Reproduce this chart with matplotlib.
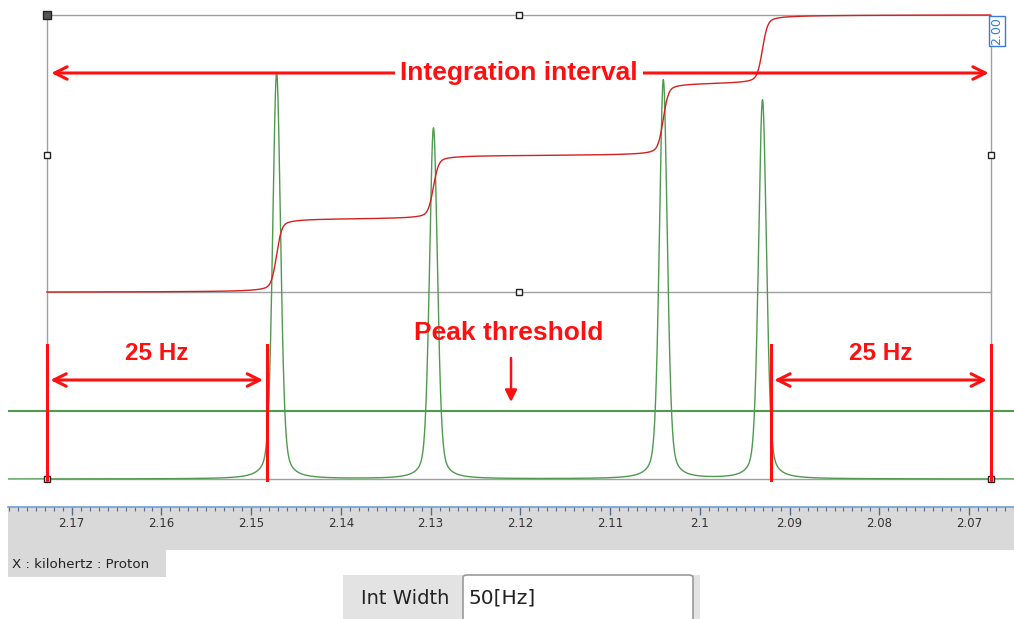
import numpy as np
import matplotlib
matplotlib.use("Agg")
import matplotlib.pyplot as plt
from matplotlib.patches import Rectangle, FancyBboxPatch

# ---------------- data ----------------
peak_pos = [2.1473, 2.1299, 2.1044, 2.0934]      # kHz
peak_height = [406, 351, 399, 379]               # intensity (a.u.)
peak_fwhm = 0.00105                              # kHz
lorentz_fraction = 0.35
x_range = (2.1771, 2.0655)                       # kHz, displayed
interval = (2.1728, 2.0681)                      # integration interval (kHz)
margin_lines = [2.1728, 2.1484, 2.0925, 2.0681]  # red marker lines
threshold = 68
integral_low, integral_high = 187, 464
integral_label = "2.00"
tick_values = [2.17, 2.16, 2.15, 2.14, 2.13, 2.12, 2.11, 2.10, 2.09, 2.08, 2.07]
tick_labels = ["2.17", "2.16", "2.15", "2.14", "2.13", "2.12", "2.11", "2.1", "2.09", "2.08", "2.07"]
peak_label_x = 2.1216
peak_arrow_x = 2.1213

W, H = 1014, 619
fig = plt.figure(figsize=(W / 100, H / 100), dpi=100)
fig.patch.set_facecolor("white")


def rect(x0, y0, x1, y1):
    return [x0 / W, 1 - y1 / H, (x1 - x0) / W, (y1 - y0) / H]


GREEN = "#4e9a4e"
RED = "#ff1010"
IRED = "#d42020"
GRAY = "#a0a0a0"
FONT = ["Liberation Sans", "DejaVu Sans"]

# ---------------- main spectrum ----------------
ax = fig.add_axes(rect(8, 0, 1014, 500))
ax.set_xlim(*x_range)
ax.set_ylim(-21, 479)
ax.axis("off")

x = np.linspace(x_range[0], x_range[1], 6000)
spec = np.zeros_like(x)
g = peak_fwhm / 2
sig = peak_fwhm / (2 * np.sqrt(2 * np.log(2)))
for p, h in zip(peak_pos, peak_height):
    lor = g ** 2 / ((x - p) ** 2 + g ** 2)
    gau = np.exp(-0.5 * ((x - p) / sig) ** 2)
    spec += h * (lorentz_fraction * lor + (1 - lorentz_fraction) * gau)
ax.plot(x, spec, color=GREEN, lw=1.0, zorder=3)

# threshold
ax.axhline(threshold, color=GREEN, lw=1.5, zorder=3)

# integral
mask = (x <= interval[0]) & (x >= interval[1])
xi = x[mask]
cum = np.cumsum(spec[mask])
cum = integral_low + (cum - cum[0]) / (cum[-1] - cum[0]) * (integral_high - integral_low)
ax.plot(xi, cum, color=IRED, lw=1.0, zorder=4)

# selection box
xm = (interval[0] + interval[1]) / 2
ax.plot([interval[0], interval[1], interval[1], interval[0], interval[0]],
        [0, 0, integral_high, integral_high, 0], color=GRAY, lw=1.0, zorder=2)
ax.plot([interval[0], interval[1]], [integral_low, integral_low], color=GRAY, lw=1.0, zorder=2)
hx = [xm, interval[0], interval[1], xm, interval[0], interval[1]]
hy = [integral_high, 324, 324, integral_low, 0, 0]
ax.plot(hx, hy, ls="none", marker="s", ms=5, mfc="white", mec="#222222", mew=1, zorder=6)
ax.plot([interval[0]], [integral_high], ls="none", marker="s", ms=6, mfc="#555555",
        mec="#222222", mew=1, zorder=6)
ax.text(interval[1] + 0.00005, integral_high - 2, integral_label, rotation=90, color="#3a7bd5",
        fontsize=9, ha="left", va="top",
        bbox=dict(boxstyle="square,pad=0.12", fc="white", ec="#3a7bd5", lw=1), zorder=7)

# red annotations
arrow_kw = dict(arrowstyle="<->,head_length=0.9,head_width=0.45", color=RED, lw=2.2,
                shrinkA=0, shrinkB=0)
ax.annotate("", xy=(interval[1] + 0.0002, 406), xytext=(interval[0] - 0.0005, 406),
            arrowprops=arrow_kw, zorder=8)
ax.text(xm, 406, "Integration interval", color=RED, fontsize=19, fontweight="bold",
        family=FONT, ha="center", va="center",
        bbox=dict(boxstyle="square,pad=0.2", fc="white", ec="none"), zorder=9)

for mx in margin_lines:
    ax.plot([mx, mx], [-1, 134], color=RED, lw=2.2, zorder=8)

for a, b in [(margin_lines[0], margin_lines[1]), (margin_lines[2], margin_lines[3])]:
    ax.annotate("", xy=(b + 0.0004, 99), xytext=(a - 0.0004, 99), arrowprops=arrow_kw, zorder=8)
    ax.text((a + b) / 2, 126, "25 Hz", color=RED, fontsize=17.5, fontweight="bold",
            family=FONT, ha="center", va="center", zorder=9)

ax.text(peak_label_x, 146, "Peak threshold", color=RED, fontsize=19, fontweight="bold",
        family=FONT, ha="center", va="center", zorder=9)
ax.annotate("", xy=(peak_arrow_x, 77), xytext=(peak_arrow_x, 121),
            arrowprops=dict(arrowstyle="-|>,head_length=0.7,head_width=0.35", color=RED, lw=1.8,
                            shrinkA=0, shrinkB=0), zorder=8)

# ---------------- ruler ----------------
rax = fig.add_axes(rect(8, 507, 1014, 550))
rax.set_xlim(*x_range)
rax.set_ylim(0, 1)
rax.set_facecolor("#d9d9d9")
for s in ["left", "right", "bottom"]:
    rax.spines[s].set_visible(False)
rax.spines["top"].set_color("#6fa0d8")
rax.spines["top"].set_linewidth(1.2)
rax.set_yticks([])
rax.set_xticks(tick_values)
rax.set_xticklabels(tick_labels)
rax.set_xticks(np.arange(2.065, 2.178, 0.001), minor=True)
rax.tick_params(axis="x", which="both", top=True, bottom=False, labelbottom=True,
                labeltop=False, direction="in", color="#5a6a8a")
rax.tick_params(axis="x", which="major", length=6, width=1, pad=-23.5, labelsize=8.5,
                labelcolor="#333333")
rax.tick_params(axis="x", which="minor", length=3, width=0.8)

# ---------------- status widgets ----------------
fig.patches.append(Rectangle((8 / W, 1 - 577 / H), (166 - 8) / W, 27 / H,
                             transform=fig.transFigure, fc="#d9d9d9", ec="none"))
fig.text(12 / W, 1 - 564 / H, "X : kilohertz : Proton", fontsize=9.6, color="#222222",
         va="center", ha="left")
fig.patches.append(Rectangle((343 / W, 0), (700 - 343) / W, 44 / H,
                             transform=fig.transFigure, fc="#e3e3e3", ec="none"))
fig.patches.append(FancyBboxPatch((463 / W, -4 / H), (693 - 463) / W, 48 / H,
                                  boxstyle="round,pad=0,rounding_size=0.004",
                                  transform=fig.transFigure, fc="white", ec="#9a9a9a", lw=1.2))
fig.text(361 / W, 1 - 598 / H, "Int Width", fontsize=14, color="#222222", va="center", ha="left")
fig.text(468 / W, 1 - 598 / H, "50[Hz]", fontsize=14.5, color="#222222", va="center", ha="left")

fig.savefig("out.png", dpi=100, facecolor="white")
